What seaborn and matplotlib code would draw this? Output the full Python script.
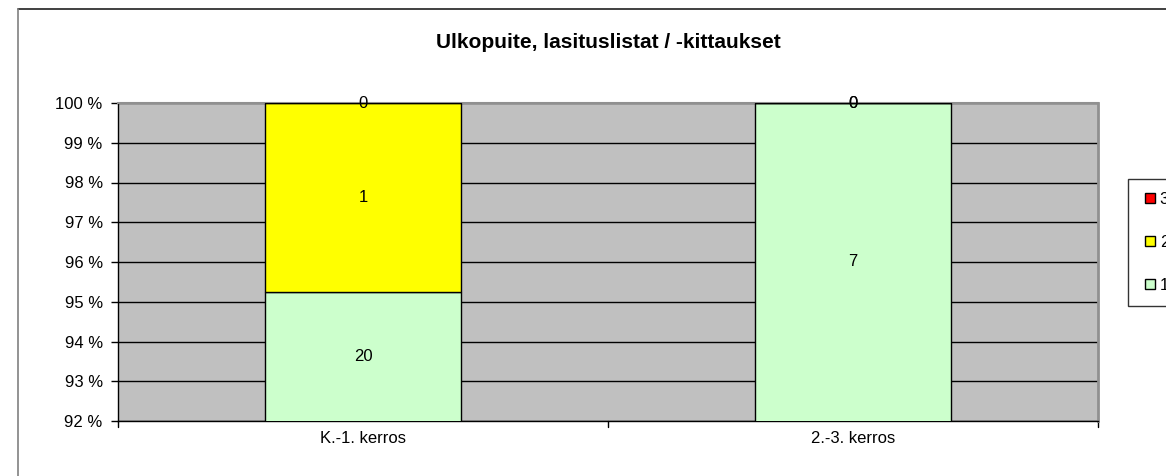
import matplotlib
matplotlib.use("Agg")
import matplotlib.pyplot as plt
import seaborn as sns
import pandas as pd
import numpy as np
from matplotlib.lines import Line2D

title = "Ulkopuite, lasituslistat / -kittaukset"
categories = ["K.-1. kerros", "2.-3. kerros"]
series_names = ["1", "2", "3"]
s1 = [20, 7]
s2 = [1, 0]
s3 = [0, 0]
colors = ["#CCFFCC", "#FFFF00", "#FF0000"]

sns.set_theme(style="white")
plt.rcParams["font.family"] = ["Liberation Sans", "DejaVu Sans"]
plt.rcParams["text.color"] = "black"
plt.rcParams["xtick.color"] = "black"
plt.rcParams["ytick.color"] = "black"

counts = np.array([s1, s2, s3], dtype=float)
totals = counts.sum(axis=0)
pct = counts / totals * 100

fig = plt.figure(figsize=(11.66, 4.76), dpi=100)
ax = fig.add_axes([118/1166, 1-421/476, (1098-118)/1166, (421-103)/476])
ax.set_facecolor("#C0C0C0")

ymin, ymax = 92, 100
bottoms = np.zeros(len(categories))
handles = []
for i, name in enumerate(series_names):
    df = pd.DataFrame({"cat": categories, "val": pct[i]})
    sns.barplot(data=df, x="cat", y="val", ax=ax, color=colors[i], bottom=bottoms,
                width=0.4, edgecolor="black", linewidth=1.0, zorder=3, saturation=1)
    for j in range(len(categories)):
        lo = max(bottoms[j], ymin)
        hi = min(bottoms[j] + pct[i][j], ymax)
        ymid = (lo + hi) / 2
        ax.text(j, ymid, f"{int(counts[i][j])}", ha="center", va="center",
                fontsize=12, color="black", zorder=5)
    bottoms = bottoms + pct[i]
    handles.append(Line2D([], [], linestyle="none", marker="s", markersize=6.5,
                          markerfacecolor=colors[i], markeredgecolor="black", markeredgewidth=1))

ax.set_ylim(ymin, ymax)
ax.set_xlim(-0.5, 1.5)
ax.set_yticks(np.arange(92, 101, 1))
ax.set_yticklabels([f"{v} %" for v in range(92, 101)], fontsize=12)
ax.yaxis.grid(True, color="black", linewidth=1, zorder=1)
ax.set_axisbelow(True)
ax.set_xlabel("")
ax.set_ylabel("")
ax.set_xticks([0, 1])
ax.set_xticklabels(categories, fontsize=12)
ax.tick_params(axis="x", length=0, pad=7)
ax.tick_params(axis="y", length=5, direction="out", left=True, width=1, color="black", pad=6)
for xb in [-0.5, 0.5, 1.5]:
    ax.plot([xb, xb], [0, -0.02], transform=ax.get_xaxis_transform(), color="black",
            linewidth=1, clip_on=False)
for side in ["left", "bottom"]:
    ax.spines[side].set_color("black")
    ax.spines[side].set_linewidth(1)
ax.spines["top"].set_color("#909090")
ax.spines["top"].set_linewidth(1.5)
ax.spines["right"].set_color("#909090")
ax.spines["right"].set_linewidth(2)

fig.text(608/1166, 1-42/476, title, ha="center", va="center", fontsize=15, fontweight="bold")

# outer chart frame
fig.add_artist(Line2D([18/1166, 1], [1-9/476, 1-9/476], transform=fig.transFigure, color="#202020", linewidth=1.2))
fig.add_artist(Line2D([18/1166, 18/1166], [1-9/476, 0], transform=fig.transFigure, color="#808080", linewidth=1.2))

leg = fig.legend(handles[::-1], series_names[::-1], loc="upper left",
                 bbox_to_anchor=(1128/1166, 1-179/476), frameon=True, fontsize=12,
                 handlelength=1.1, labelspacing=1.7, borderpad=0.75,
                 borderaxespad=0, handletextpad=0.05, fancybox=False)
leg.get_frame().set_edgecolor("black")
leg.get_frame().set_linewidth(1)

fig.savefig("out.png", dpi=100)
